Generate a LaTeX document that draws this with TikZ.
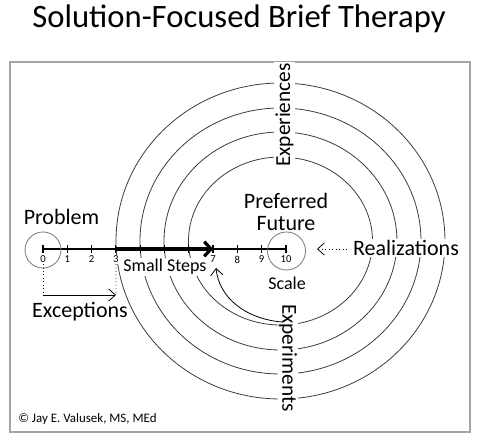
\documentclass[tikz,border=0pt]{standalone}
\usepackage{fontspec}
\setmainfont{Carlito}
\usepackage{xcolor}
\usetikzlibrary{arrows.meta}

\definecolor{ringgray}{RGB}{60,60,60}
\definecolor{circlegray}{RGB}{120,120,120}
\definecolor{framegray}{RGB}{165,165,165}

\tikzset{
  ring/.style={draw=ringgray, line width=0.6pt},
  bigtext/.style={inner sep=0.75pt, font=\fontsize{16.5}{16}\selectfont},
  midtext/.style={inner sep=0.75pt, font=\fontsize{13.5}{14}\selectfont},
  numtext/.style={inner sep=0.6pt, fill=white, font=\fontsize{8}{8}\selectfont},
  ringtext/.style={inner sep=1pt, fill=white, font=\fontsize{16}{16}\selectfont},
  thinarrow/.style={-{Straight Barb[length=5pt,width=9pt]}, line width=0.6pt},
  steparrow/.style={-{Straight Barb[length=5pt,width=11pt]}, line width=2.4pt},
}

\begin{document}
\begin{tikzpicture}[x=0.75pt,y=0.75pt,yscale=-1,xscale=1]
\useasboundingbox (0,0) rectangle (480,442);

%Shape: Frame
\draw [framegray, line width=0.9pt] (10,62) rectangle (470,432);

% Title Node
\node [anchor=base, inner sep=0pt, font=\fontsize{24.5}{25}\selectfont] (title) at (239,28) {Solution-Focused Brief Therapy};

%Shape: Rings
\coordinate (centre) at (280.5,241);
\foreach \rx/\ry in {92/84,116.5/109,140.5/133,164.5/158}
  \draw [ring] (centre) ellipse [x radius=\rx, y radius=\ry];

%Straight Lines: scale with ticks
\foreach \i in {0,...,10} {
  \coordinate (t\i) at ({43+24.3*\i},249);
  \draw [line width=0.9pt] ({43+24.3*\i},245) -- ({43+24.3*\i},253);
}
\foreach \i in {0,1,2,3,7,8,9,10}
  \node [numtext] (n\i) at ({43+24.3*\i},259.5) {\i};
\draw [line width=1.1pt] (t0) -- (t10);
\draw [steparrow] (t3) -- (t7);

%Shape: Circles
\node [circle, draw=circlegray, line width=0.6pt, minimum size=27pt, inner sep=0pt] (zerocircle) at (43,250) {};
\node [circle, draw=circlegray, line width=0.6pt, minimum size=28.5pt, inner sep=0pt] (tencircle) at (286.5,251) {};

% Text Node
\node [bigtext] (problem) at (61.5,217) {Problem};
% Text Node
\node [bigtext, align=center] (future) at (286,212) {Preferred\\Future};
% Text Node
\node [midtext, fill=white] (steps) at (165,267) {Small Steps};
% Text Node
\node [midtext] (scale) at (287,283) {Scale};
% Text Node
\node [bigtext, fill=white] (realize) at (406,248) {Realizations};
% Text Node
\node [bigtext] (except) at (80,312) {Exceptions};
% Text Node
\node [ringtext, rotate=90] (experience) at (284.5,115) {Experiences};
% Text Node
\node [ringtext, rotate=-90] (experiment) at (288,358) {Experiments};
% Text Node
\node [anchor=west, inner sep=0pt, font=\fontsize{9.7}{10}\selectfont] (copyright) at (18,419) {© Jay E. Valusek, MS, MEd};

%Straight Lines: exceptions
\coordinate (exfrom) at (43,295);
\coordinate (exto) at (116,295);
\draw [dotted, line width=0.6pt] (n0.south) -- (exfrom);
\draw [dotted, line width=0.6pt] (n3.south) -- (exto);
\draw [thinarrow] (exfrom) -- (exto);

%Straight Lines: realizations
\coordinate (realtip) at (317,249);
\draw [dotted, line width=0.6pt, thinarrow] (realize.west) ++(-5,1) -- (realtip);

%Curve Lines: experiments
\coordinate (turnfrom) at (282,322);
\coordinate (turnto) at (216,268);
\draw [thinarrow] (turnfrom) .. controls (246,319) and (219,298) .. (turnto);

\end{tikzpicture}
\end{document}
